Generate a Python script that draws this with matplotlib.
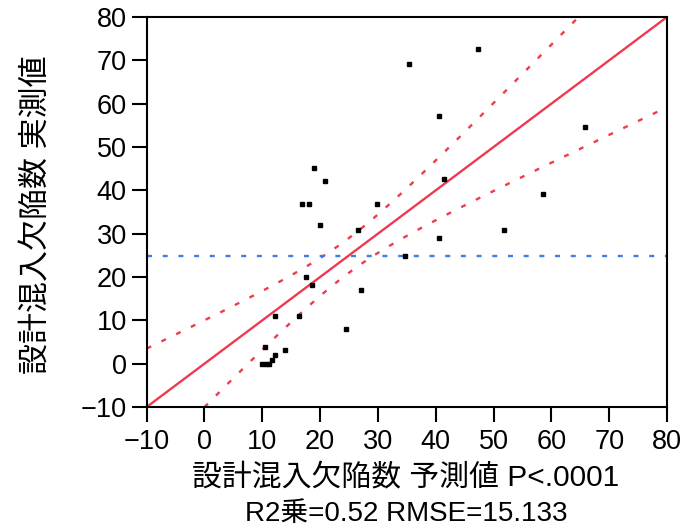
import numpy as np
import matplotlib
matplotlib.use("Agg")
import matplotlib.pyplot as plt

plt.rcParams['font.family'] = ['Liberation Sans', 'Noto Sans CJK JP', 'DejaVu Sans']
plt.rcParams['lines.scale_dashes'] = False

predicted = [35.4, 47.3, 40.6, 65.8, 41.5, 58.6, 19.0, 20.8, 16.8, 18.1, 29.8,
             19.9, 26.6, 40.6, 51.8, 34.7, 17.6, 18.6, 27.1, 12.2, 16.3, 24.4,
             10.4, 14.0, 12.2, 11.7, 10.0, 10.6, 11.2]
actual = [69.1, 72.6, 57.1, 54.7, 42.7, 39.2, 45.2, 42.2, 36.8, 36.8, 36.8,
          31.9, 30.8, 29.0, 30.8, 24.8, 20.0, 18.1, 17.0, 11.1, 11.1, 8.1,
          3.9, 3.2, 2.1, 0.9, 0.0, 0.0, 0.0]

mean_actual = 24.8
ci_half_at_mean = 4.0
ci_slope = 0.37

ticks = [-10, 0, 10, 20, 30, 40, 50, 60, 70, 80]
xlabel = "設計混入欠陥数 予測値 P<.0001"
xlabel2 = "R2乗=0.52 RMSE=15.133"
ylabel = "設計混入欠陥数 実測値"

red = '#EE3B4E'
blue = '#3D7BF0'

fig = plt.figure(figsize=(6.88, 5.30), dpi=100)
ax = fig.add_axes([0.2132, 0.2321, 0.7563, 0.7358])
lo, hi = -10, 80
ax.set_xlim(lo, hi)
ax.set_ylim(lo, hi)

xs = np.linspace(lo, hi, 400)
half = np.sqrt(ci_half_at_mean**2 + (ci_slope * (xs - mean_actual))**2)
ax.plot(xs, xs + half, color=red, lw=1.7, linestyle=(0, (3.6, 8.2)), clip_on=True)
ax.plot(xs, xs - half, color=red, lw=1.7, linestyle=(0, (3.6, 8.2)), clip_on=True)
ax.axhline(mean_actual, color=blue, lw=1.7, linestyle=(0, (3.6, 7.7)))
ax.plot([lo, hi], [lo, hi], color=red, lw=1.7)
ax.plot(predicted, actual, linestyle='none', marker='s', markersize=3.0,
        color='black', zorder=5)

ax.set_xticks(ticks)
ax.set_yticks(ticks)
ax.tick_params(direction='out', length=10.8, width=1.5, labelsize=19.5)
ax.tick_params(axis='x', pad=5)
ax.tick_params(axis='y', pad=3.5)
for s in ax.spines.values():
    s.set_linewidth(1.5)

fig.text(0.589, 0.097, xlabel, ha='center', va='center', fontsize=21.5)
fig.text(0.590, 0.030, xlabel2, ha='center', va='center', fontsize=20)
fig.text(0.055, 0.594, ylabel, ha='center', va='center', rotation=90, fontsize=22.3)

fig.savefig('out.png', dpi=100)
